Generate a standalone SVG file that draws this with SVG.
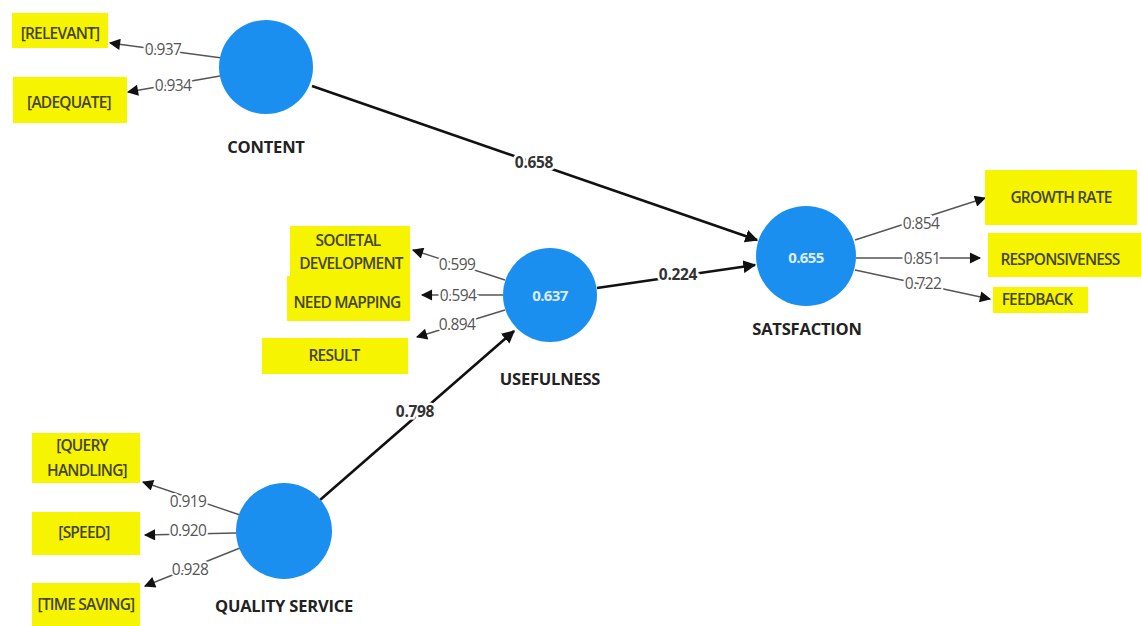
<svg xmlns="http://www.w3.org/2000/svg" width="1141" height="626" viewBox="0 0 1141 626">
<defs>
<marker id="ah" viewBox="0 0 10 10" refX="9" refY="5" markerWidth="5" markerHeight="5" orient="auto" markerUnits="strokeWidth"><path d="M0,0 L10,5 L0,10 z" fill="#111"/></marker>
<marker id="ahs" viewBox="0 0 10 10" refX="9" refY="5" markerWidth="9" markerHeight="8" orient="auto" markerUnits="strokeWidth"><path d="M0,0 L10,5 L0,10 z" fill="#111"/></marker>
<style>
.bg{fill:#fff}
.lv{fill:#1b8ff0}
.box{fill:#f7f400}
.bt{font-family:"Open Sans","Noto Sans",sans-serif;font-size:15.5px;font-weight:600;fill:#45452a;text-anchor:middle;letter-spacing:-0.8px}
.nl{font-family:"Open Sans","Noto Sans",sans-serif;font-size:16.5px;font-weight:bold;fill:#222;text-anchor:middle;letter-spacing:-0.2px}
.r2{font-family:"Open Sans","Noto Sans",sans-serif;font-size:15px;fill:#dcecff;text-anchor:middle;font-weight:bold;letter-spacing:-0.6px}
.ol{stroke:#555;stroke-width:1.4;fill:none;marker-end:url(#ahs)}
.il{stroke:#111;stroke-width:2.6;fill:none;marker-end:url(#ah)}
.el{font-family:"Open Sans","Noto Sans",sans-serif;font-size:15.5px;fill:#555;text-anchor:middle;paint-order:stroke;stroke:#fff;stroke-width:4px;letter-spacing:-0.6px}
.ei{font-family:"Open Sans","Noto Sans",sans-serif;font-size:15.5px;font-weight:bold;fill:#333;text-anchor:middle;paint-order:stroke;stroke:#fff;stroke-width:5px;letter-spacing:-0.3px}
</style>
</defs>
<rect class="bg" width="1141" height="626"/>
<g id="connectors">
<line class="ol" x1="222" y1="58" x2="110" y2="43"/>
<line class="ol" x1="220" y1="76" x2="128" y2="92"/>
<line class="ol" x1="505" y1="280" x2="413" y2="250"/>
<line class="ol" x1="503" y1="295" x2="422" y2="295"/>
<line class="ol" x1="505" y1="310" x2="417" y2="337"/>
<line class="ol" x1="855" y1="240" x2="985" y2="198"/>
<line class="ol" x1="856" y1="258" x2="980" y2="258"/>
<line class="ol" x1="855" y1="270" x2="990" y2="299"/>
<line class="ol" x1="240" y1="515" x2="143" y2="482"/>
<line class="ol" x1="236" y1="533" x2="145" y2="535"/>
<line class="ol" x1="240" y1="548" x2="145" y2="586"/>
<line class="il" x1="312" y1="86" x2="757" y2="240"/>
<line class="il" x1="597" y1="288" x2="755" y2="265"/>
<line class="il" x1="320" y1="500" x2="514" y2="331"/>
<text class="el" x="163" y="55">0.937</text>
<text class="el" x="173" y="91">0.934</text>
<text class="el" x="457" y="270">0.599</text>
<text class="el" x="458" y="301">0.594</text>
<text class="el" x="457" y="330">0.894</text>
<text class="el" x="921" y="229">0.854</text>
<text class="el" x="922" y="264">0.851</text>
<text class="el" x="923" y="289">0.722</text>
<text class="el" x="188" y="507">0.919</text>
<text class="el" x="188" y="536">0.920</text>
<text class="el" x="190" y="575">0.928</text>
<text class="ei" x="534" y="168">0.658</text>
<text class="ei" x="678" y="280">0.224</text>
<text class="ei" x="415" y="417">0.798</text>
</g>
<g id="content"><circle class="lv" cx="266" cy="67" r="47"/><text class="nl" x="266" y="153">CONTENT</text></g>
<g id="usefulness"><circle class="lv" cx="550" cy="295" r="47"/><text class="r2" x="550" y="301">0.637</text><text class="nl" x="550" y="385">USEFULNESS</text></g>
<g id="satisfaction"><circle class="lv" cx="806" cy="256" r="50"/><text class="r2" x="806" y="263">0.655</text><text class="nl" x="807" y="335">SATSFACTION</text></g>
<g id="quality"><circle class="lv" cx="284" cy="531" r="48"/><text class="nl" x="284" y="612">QUALITY SERVICE</text></g>
<g id="relevant"><rect class="box" x="12" y="13" width="96" height="35"/><text class="bt" x="60" y="39">[RELEVANT]</text></g>
<g id="adequate"><rect class="box" x="13" y="77" width="114" height="46"/><text class="bt" x="69" y="108">[ADEQUATE]</text></g>
<g id="societal"><rect class="box" x="290" y="226" width="120" height="50"/><text class="bt" x="348" y="246">SOCIETAL</text><text class="bt" x="351" y="269">DEVELOPMENT</text></g>
<g id="needmapping"><rect class="box" x="287" y="276" width="123" height="45"/><text class="bt" x="347" y="308">NEED MAPPING</text></g>
<g id="result"><rect class="box" x="262" y="338" width="146" height="36"/><text class="bt" x="334" y="361">RESULT</text></g>
<g id="growthrate"><rect class="box" x="985" y="170" width="152" height="55"/><text class="bt" x="1061" y="203">GROWTH RATE</text></g>
<g id="responsiveness"><rect class="box" x="988" y="233" width="153" height="44"/><text class="bt" x="1060" y="265">RESPONSIVENESS</text></g>
<g id="feedback"><rect class="box" x="993" y="287" width="95" height="26"/><text class="bt" x="1037" y="305">FEEDBACK</text></g>
<g id="query"><rect class="box" x="32" y="433" width="108" height="50"/><text class="bt" x="82" y="451">[QUERY</text><text class="bt" x="87" y="476">HANDLING]</text></g>
<g id="speed"><rect class="box" x="32" y="512" width="108" height="43"/><text class="bt" x="84" y="538">[SPEED]</text></g>
<g id="timesaving"><rect class="box" x="32" y="583" width="108" height="43"/><text class="bt" x="86" y="610">[TIME SAVING]</text></g>
</svg>
